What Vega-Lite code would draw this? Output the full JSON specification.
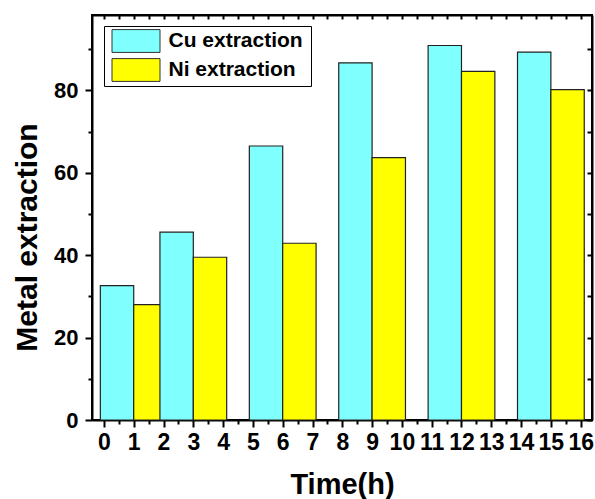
{
  "$schema": "https://vega.github.io/schema/vega-lite/v6.json",
  "width": 500,
  "height": 405,
  "autosize": {"type": "none"},
  "padding": {"left": 92, "top": 15, "right": 3, "bottom": 79},
  "background": "white",
  "data": {
    "values": [
      {"time": 1, "metal": "Cu extraction", "value": 32.6},
      {"time": 1, "metal": "Ni extraction", "value": 28.0},
      {"time": 3, "metal": "Cu extraction", "value": 45.6},
      {"time": 3, "metal": "Ni extraction", "value": 39.5},
      {"time": 6, "metal": "Cu extraction", "value": 66.5},
      {"time": 6, "metal": "Ni extraction", "value": 42.9},
      {"time": 9, "metal": "Cu extraction", "value": 86.7},
      {"time": 9, "metal": "Ni extraction", "value": 63.7},
      {"time": 12, "metal": "Cu extraction", "value": 90.9},
      {"time": 12, "metal": "Ni extraction", "value": 84.6},
      {"time": 15, "metal": "Cu extraction", "value": 89.3},
      {"time": 15, "metal": "Ni extraction", "value": 80.2}
    ]
  },
  "transform": [
    {"calculate": "datum.metal == 'Cu extraction' ? datum.time - 1.12 : datum.time + 1.12", "as": "edge"}
  ],
  "layer": [
    {
      "mark": {"type": "bar", "stroke": "#222222", "strokeWidth": 1.2},
      "encoding": {
        "x": {
          "field": "time",
          "type": "quantitative",
          "scale": {"domain": [-0.4, 16.38], "nice": false, "zero": false},
          "axis": {
            "orient": "bottom",
            "values": [0,0.5,1,1.5,2,2.5,3,3.5,4,4.5,5,5.5,6,6.5,7,7.5,8,8.5,9,9.5,10,10.5,11,11.5,12,12.5,13,13.5,14,14.5,15,15.5,16],
            "labelExpr": "datum.value % 1 == 0 ? format(datum.value, 'd') : ''",
            "tickSize": {"expr": "datum.value % 1 == 0 ? 7 : 4"},
            "labelPadding": 4,
            "labelFontSize": 23,
            "labelFontWeight": "bold",
            "labelOverlap": false,
            "labelFlush": false,
            "labelAlign": "center",
            "title": "Time(h)",
            "titleFontSize": 29,
            "titleFontWeight": "bold",
            "titleBaseline": "alphabetic",
            "titleAlign": "center",
            "titleX": 250,
            "titleY": 73
          }
        },
        "x2": {"field": "edge"},
        "y": {
          "field": "value",
          "type": "quantitative",
          "scale": {"domain": [0, 98.3], "nice": false},
          "axis": {
            "orient": "left",
            "values": [0,10,20,30,40,50,60,70,80,90],
            "labelExpr": "datum.value % 20 == 0 ? format(datum.value, 'd') : ''",
            "tickSize": {"expr": "datum.value % 20 == 0 ? 7 : 4"},
            "labelPadding": 7,
            "labelFontSize": 22,
            "labelFontWeight": "bold",
            "labelOverlap": false,
            "labelFlush": false,
            "labelBaseline": "middle",
            "title": "Metal extraction",
            "titleFontSize": 30,
            "titleFontWeight": "bold",
            "titleAngle": -90,
            "titleBaseline": "alphabetic",
            "titleAlign": "center",
            "titleX": -56,
            "titleY": 222
          }
        },
        "y2": {"datum": 0},
        "fill": {
          "field": "metal",
          "type": "nominal",
          "scale": {"domain": ["Cu extraction", "Ni extraction"], "range": ["#80FFFF", "#FFFF00"]},
          "legend": {
            "title": "\u00a0",
            "titleOrient": "right",
            "titlePadding": 6,
            "titleFontSize": 21,
            "orient": "none",
            "legendX": 12,
            "legendY": 11,
            "direction": "vertical",
            "fillColor": "white",
            "strokeColor": "black",
            "padding": 2.5,
            "rowPadding": 2,
            "symbolType": "M-2,-0.95H2V0.95H-2Z",
            "symbolSize": 576,
            "symbolStrokeColor": "#333333",
            "symbolStrokeWidth": 1,
            "symbolOffset": 17,
            "labelOffset": 20,
            "labelFont": "Liberation Sans",
            "labelFontSize": 21,
            "labelFontWeight": "bold",
            "labelColor": "black",
            "labelLimit": 300
          }
        }
      }
    },
    {
      "mark": {"type": "point", "opacity": 0},
      "encoding": {
        "x": {
          "field": "time",
          "type": "quantitative",
          "axis": {
            "orient": "top",
            "values": [0,0.5,1,1.5,2,2.5,3,3.5,4,4.5,5,5.5,6,6.5,7,7.5,8,8.5,9,9.5,10,10.5,11,11.5,12,12.5,13,13.5,14,14.5,15,15.5,16],
            "labels": false,
            "title": null,
            "tickSize": -4
          }
        },
        "y": {
          "field": "value",
          "type": "quantitative",
          "axis": {
            "orient": "right",
            "values": [0,10,20,30,40,50,60,70,80,90],
            "labels": false,
            "title": null,
            "tickSize": -5
          }
        }
      }
    }
  ],
  "resolve": {"axis": {"x": "independent", "y": "independent"}},
  "config": {
    "font": "Liberation Sans",
    "view": {"stroke": "black", "strokeWidth": 2},
    "axis": {
      "grid": false,
      "domain": true,
      "domainColor": "black",
      "domainWidth": 2,
      "tickColor": "black",
      "tickWidth": 2,
      "labelColor": "black",
      "titleColor": "black",
      "labelFont": "Liberation Sans",
      "titleFont": "Liberation Sans"
    }
  }
}
